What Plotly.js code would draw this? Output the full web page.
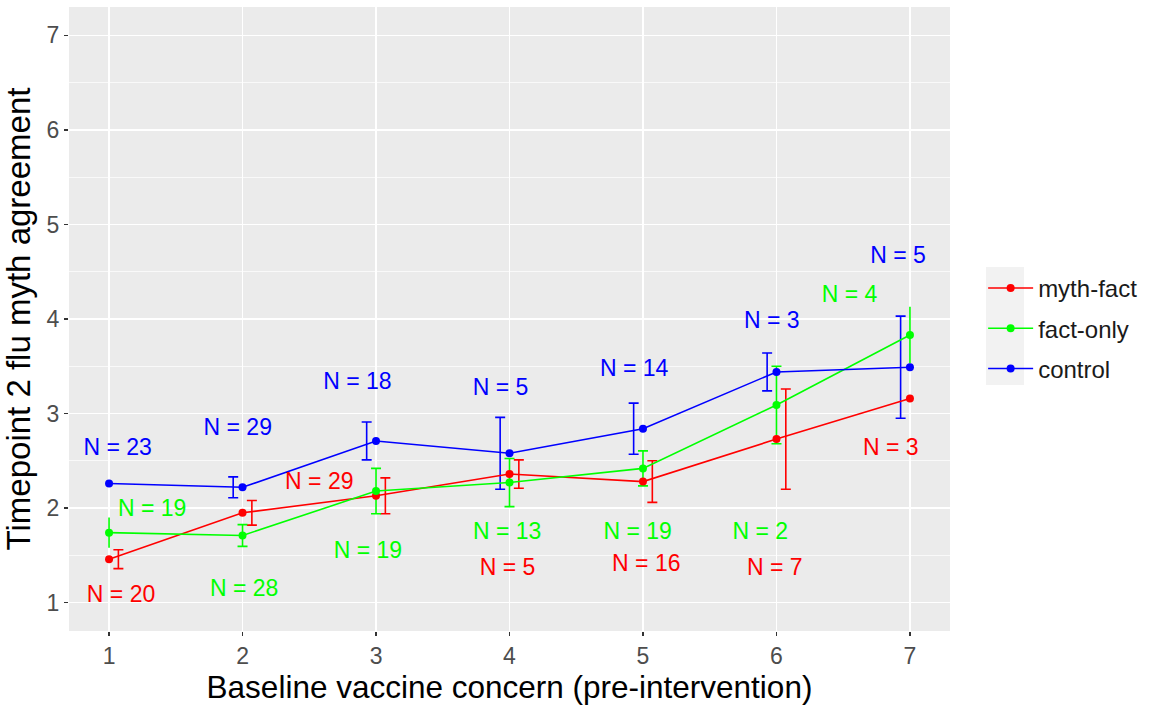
<!DOCTYPE html>
<html>
<head>
<meta charset="utf-8">
<script src="https://cdn.plot.ly/plotly-3.0.1.min.js"></script>
<style>html,body{margin:0;padding:0;background:#fff;}#chart{width:1149px;height:709px;}</style>
</head>
<body>
<div id="chart"></div>
<script>
// ---- data ----
const concern = [1, 2, 3, 4, 5, 6, 7];
const tickLabels = ['1', '2', '3', '4', '5', '6', '7'];

const mythFactMean = [1.46, 1.95, 2.13, 2.36, 2.28, 2.73, 3.16];
const mythFactErr  = [0.10, 0.13, 0.19, 0.15, 0.22, 0.53, null];
const mythFactN    = ['N = 20', 'N = 29', 'N = 5', 'N = 16', 'N = 7', 'N = 3'];
const mythFactLabX = [1.09, 2.575, 3.985, 5.025, 5.988, 6.857];
const mythFactLabY = [1.067, 2.264, 1.349, 1.391, 1.356, 2.627];

const factOnlyMean = [1.74, 1.71, 2.18, 2.27, 2.42, 3.09, 3.83];
const factOnlyErr  = [0.16, 0.115, 0.24, 0.255, 0.185, 0.41, 0.30];
const factOnlyN    = ['N = 19', 'N = 28', 'N = 19', 'N = 13', 'N = 19', 'N = 2', 'N = 4'];
const factOnlyLabX = [1.3225, 2.0125, 2.939, 3.982, 4.96, 5.879, 6.548];
const factOnlyLabY = [1.972, 1.13, 1.531, 1.729, 1.729, 1.736, 4.236];

const controlMean = [2.26, 2.22, 2.71, 2.58, 2.84, 3.44, 3.49];
const controlErr  = [null, 0.11, 0.20, 0.38, 0.27, 0.20, 0.54];
const controlN    = ['N = 23', 'N = 29', 'N = 18', 'N = 5', 'N = 14', 'N = 3', 'N = 5'];
const controlLabX = [1.064, 1.964, 2.86, 3.933, 4.934, 5.965, 6.91];
const controlLabY = [2.627, 2.838, 3.324, 3.26, 3.454, 3.965, 4.658];

// ---- styling ----
const RED = '#FF0000', GREEN = '#00FF00', BLUE = '#0000FF';
const FONT = 'Liberation Sans, Arial, sans-serif';
const series = [
  {name: 'myth-fact', color: RED, mean: mythFactMean, err: mythFactErr, dodge: 0.07, noCap: [],
   n: mythFactN, lx: mythFactLabX, ly: mythFactLabY},
  {name: 'fact-only', color: GREEN, mean: factOnlyMean, err: factOnlyErr, dodge: 0, noCap: [1, 7],
   n: factOnlyN, lx: factOnlyLabX, ly: factOnlyLabY},
  {name: 'control', color: BLUE, mean: controlMean, err: controlErr, dodge: -0.07, noCap: [],
   n: controlN, lx: controlLabX, ly: controlLabY}
];

const traces = [];
// error bars (dodged); points without an error value get no bar
series.forEach(s => {
  [false, true].forEach(capless => {
    const idx = concern.map((c, i) => i).filter(i =>
      s.err[i] !== null && (s.noCap.includes(concern[i]) === capless));
    if (!idx.length) return;
    traces.push({
      type: 'scatter', mode: 'markers',
      x: idx.map(i => concern[i] + s.dodge), y: idx.map(i => s.mean[i]),
      marker: {size: 1, opacity: 0, color: s.color},
      error_y: {type: 'data', array: idx.map(i => s.err[i]), visible: true,
                color: s.color, thickness: 1.6, width: capless ? 0 : 5},
      showlegend: false, hoverinfo: 'skip'
    });
  });
});
// lines + points
series.forEach((s, i) => {
  traces.push({
    type: 'scatter', mode: 'lines+markers', name: s.name,
    legendgroup: 'g' + i,
    x: concern, y: s.mean,
    line: {color: s.color, width: 1.6},
    marker: {color: s.color, size: 8}
  });
});
// N labels
series.forEach(s => {
  traces.push({
    type: 'scatter', mode: 'text',
    x: s.lx, y: s.ly, text: s.n,
    textposition: 'middle center',
    textfont: {family: FONT, size: 23, color: s.color},
    showlegend: false, hoverinfo: 'skip'
  });
});

const layout = {
  width: 1149, height: 709,
  margin: {l: 69, r: 199, t: 7, b: 78, autoexpand: false},
  paper_bgcolor: '#FFFFFF',
  plot_bgcolor: '#EBEBEB',
  font: {family: FONT, color: '#000'},
  showlegend: true,
  legend: {
    x: 1.0376, xanchor: 'left', y: 0.585, yanchor: 'top',
    font: {family: FONT, size: 24, color: '#1A1A1A'},
    bgcolor: 'rgba(0,0,0,0)', traceorder: 'grouped', tracegroupgap: 6,
    itemwidth: 45
  },
  xaxis: {
    range: [0.7, 7.3], tickmode: 'array', tickvals: concern, ticktext: tickLabels,
    showgrid: true, gridcolor: '#FFFFFF', gridwidth: 1.5, zeroline: false,
    ticks: 'outside', ticklen: 4, tickwidth: 1.2, tickcolor: '#333333',
    tickfont: {family: FONT, size: 23, color: '#4D4D4D'},
    showline: false,
    title: {text: 'Baseline vaccine concern (pre-intervention)', font: {family: FONT, size: 31.5, color: '#000'}, standoff: 6}
  },
  yaxis: {
    range: [0.7, 7.3], tickmode: 'array', tickvals: concern, ticktext: tickLabels,
    showgrid: true, gridcolor: '#FFFFFF', gridwidth: 1.5, zeroline: false,
    ticks: 'outside', ticklen: 4, tickwidth: 1.2, tickcolor: '#333333',
    tickfont: {family: FONT, size: 23, color: '#4D4D4D'},
    minor: {tickmode: 'linear', tick0: 0.5, dtick: 1, showgrid: true, gridcolor: '#FFFFFF', gridwidth: 0.7, ticks: ''},
    showline: false,
    title: {text: 'Timepoint 2 flu myth agreement', font: {family: FONT, size: 33, color: '#000'}, standoff: 8}
  },
  shapes: [{
    type: 'rect', xref: 'paper', yref: 'paper', layer: 'below',
    x0: 1.0409, x1: 1.084, y0: 0.3942, y1: 0.5833,
    fillcolor: '#F2F2F2', line: {width: 0}
  }]
};

Plotly.newPlot('chart', traces, layout, {displayModeBar: false, staticPlot: true});
</script>
</body>
</html>
